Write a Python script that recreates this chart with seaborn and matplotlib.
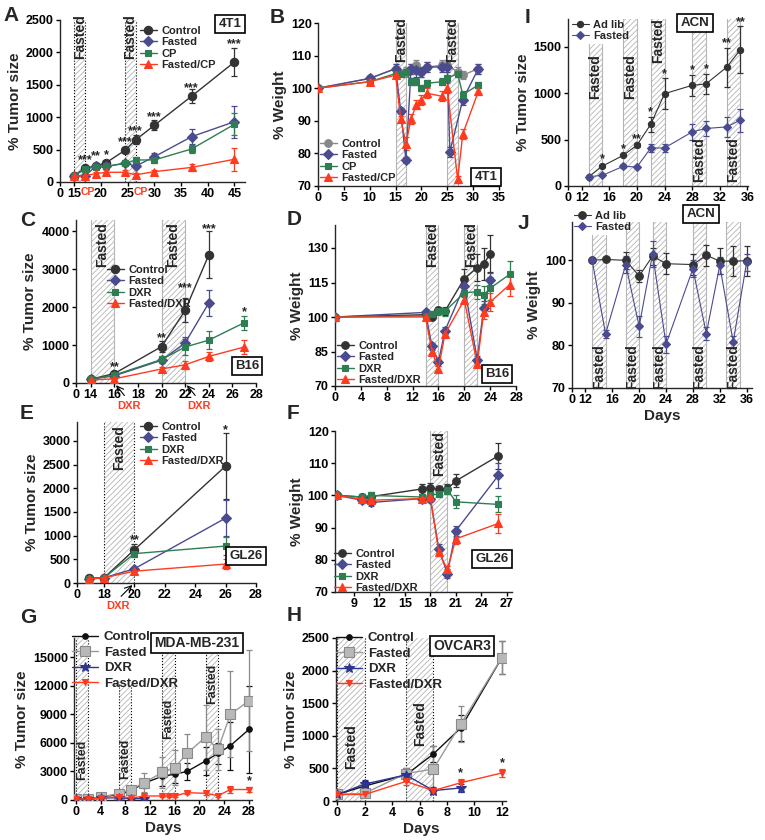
import numpy as np
import pandas as pd
import matplotlib
matplotlib.use('Agg')
import matplotlib.pyplot as plt
import matplotlib.transforms as mtransforms
import seaborn as sns

sns.set_theme(style='ticks')
plt.rcParams['font.family'] = ['Liberation Sans', 'DejaVu Sans']
plt.rcParams['font.weight'] = 'bold'
plt.rcParams['axes.labelweight'] = 'bold'
plt.rcParams['axes.linewidth'] = 1.0
plt.rcParams['hatch.linewidth'] = 0.6
for k in ['xtick', 'ytick']:
    plt.rcParams[k + '.major.width'] = 1.0
    plt.rcParams[k + '.major.size'] = 3
    plt.rcParams[k + '.labelsize'] = 9
    plt.rcParams[k + '.major.pad'] = 1.5
    plt.rcParams[k + '.color'] = 'black'

# colours
C_CTRL = '#333333'
C_FAST = '#4b4b8f'
C_DRUG = '#2f7d52'
C_RED = '#ff3b1f'
C_GRAY = '#888888'
C_NAVY = '#2c3590'

# ---------------- A: 4T1 tumor size ----------------
a_days = [15, 17, 19, 21, 24.5, 26.5, 30, 37, 45]
a_ctrl = [100, 215, 245, 300, 490, 650, 875, 1325, 1850]
a_ctrl_err = [0, 30, 25, 30, 30, 70, 80, 110, 215]
a_fast = [100, 95, 240, 240, 290, 245, 390, 700, 930]
a_fast_err = [0, 10, 25, 20, 30, 30, 50, 120, 250]
a_cp = [100, 195, 235, 240, 290, 340, 340, 510, 890]
a_cp_err = [0, 20, 25, 25, 30, 40, 40, 60, 170]
a_fcp = [90, 95, 130, 150, 150, 110, 160, 225, 350]
a_fcp_err = [0, 10, 30, 30, 30, 30, 25, 60, 180]
a_star_x = [17, 19, 21, 24.5, 26.5, 30, 37, 45]
a_star_y = [330, 400, 420, 610, 790, 1000, 1450, 2120]
a_star_t = ['***', '**', '*', '***', '***', '***', '***', '***']

# ---------------- B: 4T1 weight ----------------
b_ctrl_x = [0, 10, 15, 17, 18, 19, 20, 21, 24, 25, 27, 28, 31]
b_ctrl = [100, 103, 106, 105, 106, 107, 105, 106.5, 107, 107, 105, 104, 106]
b_ctrl_err = [0, 0.8, 1.5, 1.5, 1.5, 1.5, 1.5, 1.5, 1.5, 1.5, 1.5, 1.2, 1.5]
b_fast_x = [0, 10, 15, 16, 17, 18, 19, 20, 21, 24, 25, 25.5, 28, 31]
b_fast = [100, 103, 106, 93, 78, 106, 105.5, 105, 106.5, 106.5, 106.5, 80.5, 96.5, 106]
b_fast_err = [0, 0.8, 1.5, 1, 1, 1.5, 2, 1.5, 1.5, 1.5, 1.5, 1.5, 1.5, 1.5]
b_cp_x = [0, 10, 15, 16, 17, 18, 19, 20, 21, 24, 25, 27, 28, 31]
b_cp = [100, 102, 104.5, 104.5, 105, 102, 102, 100, 101.5, 102, 103, 104.5, 98, 101]
b_cp_err = [0, 0.8, 1, 1, 1, 1, 1, 1, 1, 1, 1, 1.2, 1.2, 1]
b_fcp_x = [0, 10, 15, 16, 17, 18, 19, 20, 21, 24, 25, 27, 28, 31]
b_fcp = [100, 102, 104, 90.5, 83, 90.5, 95, 96.5, 98.5, 97.5, 100, 72, 86, 99]
b_fcp_err = [0, 0.8, 1, 1, 2, 1.5, 1.5, 1.5, 1.5, 1.5, 1.5, 1, 1.5, 1]

# ---------------- C: B16 tumor size ----------------
c_days = [14, 16, 20, 22, 24]
c_ctrl = [100, 250, 960, 1920, 3380]
c_ctrl_err = [0, 30, 150, 310, 620]
c_fast = [100, 190, 600, 1060, 2110]
c_fast_err = [0, 20, 80, 150, 350]
c_dxr_x = [14, 16, 20, 22, 24, 27]
c_dxr = [100, 210, 620, 950, 1130, 1590]
c_dxr_err = [0, 20, 80, 200, 230, 190]
c_fdxr = [80, 110, 370, 480, 700, 950]
c_fdxr_err = [0, 10, 60, 100, 120, 180]
c_star_x = [16, 20, 22, 24, 27]
c_star_y = [420, 1170, 2500, 4050, 1860]
c_star_t = ['**', '**', '***', '***', '*']

# ---------------- D: B16 weight ----------------
d_days = [0, 14, 15, 16, 17, 20, 22, 23, 24]
d_ctrl = [100, 101, 100.2, 103, 102.5, 116.7, 121.5, 123, 127.5]
d_ctrl_err = [0, 1, 1, 1.5, 1.5, 4, 6, 7, 8]
d_fast = [100, 102, 87.3, 80.4, 94, 113.5, 81.5, 104, 116]
d_fast_err = [0, 1, 1.5, 1.5, 1.5, 2.5, 1.5, 3, 3]
d_dxr_x = [0, 14, 15, 16, 17, 20, 22, 23, 24, 27]
d_dxr = [100, 100.5, 101.5, 102.5, 102.5, 110.5, 111, 109.5, 112.5, 118.5]
d_dxr_err = [0, 1, 1, 1.5, 2, 2, 3, 4, 5, 6]
d_fdxr = [100, 100, 85, 77.5, 92.5, 107.5, 79.5, 102, 106.5, 114]
d_fdxr_err = [0, 1, 1, 1, 1.5, 1.5, 1, 3, 4, 5]

# ---------------- E: GL26 tumor size ----------------
e_days = [17, 18, 20, 26]
e_ctrl = [100, 110, 700, 2470]
e_ctrl_err = [0, 0, 120, 700]
e_fast = [90, 110, 300, 1370]
e_fast_err = [0, 0, 40, 380]
e_dxr = [90, 110, 620, 780]
e_dxr_err = [0, 0, 80, 190]
e_fdxr = [80, 110, 250, 400]
e_fdxr_err = [0, 0, 30, 100]

# ---------------- F: GL26 weight ----------------
f_days = [7, 10, 11, 17, 18, 19, 20, 21, 26]
f_ctrl = [100, 99.5, 99.6, 102, 102.3, 102, 102, 104.5, 112.3]
f_ctrl_err = [0, 1, 1, 1.5, 1.5, 1, 1.5, 2, 4]
f_fast = [100, 98.5, 97.8, 99, 99, 83.5, 75.7, 89, 106.2]
f_fast_err = [0, 1, 1, 1, 1, 1.5, 1.5, 1.5, 4]
f_dxr = [100, 99.5, 100, 99.5, 100, 100.5, 101.8, 98, 97.2]
f_dxr_err = [0, 1, 1, 1, 1, 1, 1.5, 2, 2.5]
f_fdxr = [100, 98.8, 98.5, 99, 99.5, 82.3, 77, 86.5, 91.3]
f_fdxr_err = [0, 1, 1, 1, 1.5, 1, 1, 1.5, 3]

# ---------------- G: MDA-MB-231 ----------------
g_days = [0, 2, 4, 7, 9, 11, 14, 16, 18, 21, 23, 25, 28]
g_ctrl = [100, 100, 350, 550, 1000, 1750, 2500, 2700, 3000, 4100, 4900, 5700, 7400]
g_ctrl_err = [0, 0, 50, 100, 250, 500, 1000, 900, 900, 1500, 1100, 2500, 4600]
g_fast = [100, 100, 350, 650, 1100, 1800, 2900, 3400, 4900, 6600, 5300, 9000, 10400]
g_fast_err = [0, 0, 50, 200, 400, 1000, 1600, 1800, 2000, 3400, 2200, 4500, 5300]
g_dxr_x = [0, 2, 4, 7, 9, 11]
g_dxr = [100, 60, 200, 250, 150, 150]
g_dxr_err = [0, 30, 50, 50, 50, 50]
g_fdxr_x = [0, 2, 4, 7, 9, 11, 14, 15, 16, 18, 21, 23, 25, 28]
g_fdxr = [100, 100, 200, 350, 200, 420, 420, 400, 420, 770, 700, 450, 1100, 1100]
g_fdxr_err = [0, 0, 50, 50, 50, 100, 100, 100, 100, 150, 150, 150, 350, 250]

# ---------------- H: OVCAR3 ----------------
h_days = [0, 2, 5, 7, 9, 12]
h_ctrl = [100, 230, 400, 720, 1120, 2200]
h_ctrl_err = [0, 80, 100, 120, 200, 250]
h_fast = [100, 120, 420, 490, 1180, 2200]
h_fast_err = [0, 40, 80, 350, 280, 250]
h_dxr_x = [0, 2, 5, 7, 9]
h_dxr = [100, 260, 400, 160, 200]
h_dxr_err = [0, 60, 80, 50, 60]
h_fdxr = [100, 100, 300, 160, 280, 430]
h_fdxr_err = [0, 20, 60, 40, 60, 60]

# ---------------- I: ACN tumor size ----------------
i_days = [13, 15, 18, 20, 22, 24, 28, 30, 33, 35]
i_adlib = [100, 215, 330, 440, 665, 995, 1085, 1100, 1280, 1470]
i_adlib_err = [0, 0, 0, 20, 80, 165, 110, 105, 210, 255]
i_fast = [100, 115, 212, 205, 410, 410, 583, 620, 637, 710]
i_fast_err = [0, 10, 20, 15, 45, 45, 90, 85, 110, 125]
i_star_y = [290, 400, 510, 800, 1200, 1250, 1260, 1540, 1770]
i_star_t = ['*', '*', '**', '*', '*', '*', '*', '**', '**']

# ---------------- J: ACN weight ----------------
j_days = [13, 15, 18, 20, 22, 24, 28, 30, 32, 34, 36]
j_adlib = [100, 100.2, 100, 96.3, 101, 99.2, 99, 101.2, 99.8, 99.8, 99.9]
j_adlib_err = [0, 0, 2, 1.5, 2, 2.5, 2.5, 2.5, 3, 3.5, 3.5]
j_fast = [100, 82.7, 99, 84.5, 101.5, 80.3, 98, 82.8, 98.8, 80.8, 99.5]
j_fast_err = [0, 1, 2, 2.5, 3, 2, 2, 1.5, 2, 1.5, 2]

W, H = 765, 840
fig = plt.figure(figsize=(W / 100, H / 100), dpi=100)


def panel(l, t, r, b):
    ax = fig.add_axes([l / W, 1 - b / H, (r - l) / W, (b - t) / H])
    sns.despine(ax=ax)
    return ax


def series(ax, x, y, err, label, color, marker, ms=5.5, mfc=None, mec=None, lw=1.0):
    df = pd.DataFrame({'day': x, 'val': y})
    sns.lineplot(data=df, x='day', y='val', ax=ax, color=color, marker=marker,
                 markersize=ms, markerfacecolor=mfc or color,
                 markeredgecolor=mec or color, markeredgewidth=0.8,
                 linewidth=lw, label=label, errorbar=None, legend=False, zorder=3)
    if err is not None:
        ax.errorbar(x, y, yerr=err, fmt='none', ecolor=mec or color, elinewidth=0.9,
                    capsize=2.5, capthick=0.9, zorder=2)


def fasted(ax, x0, x1, ylim, top=None, dotted=False):
    y0, y1 = ylim
    frac = 1 if top is None else (top - y0) / (y1 - y0)
    ax.axvspan(x0, x1, ymin=0, ymax=frac, facecolor='white', edgecolor='#b4b4b4',
               hatch='//////', lw=0, zorder=0)
    ls = ':' if dotted else '-'
    c = 'black' if dotted else '#b5b5b5'
    for xx in (x0, x1):
        ax.plot([xx, xx], [y0, y0 + frac * (y1 - y0)], ls=ls, color=c, lw=0.8, zorder=1)


def ftext(ax, x, y, fs=10):
    ax.text(x, y, 'Fasted', rotation=90, ha='center', va='center', fontsize=fs,
            fontweight='bold', zorder=4)


def stars(ax, xs, ys, ts):
    for x, y, t in zip(xs, ys, ts):
        ax.text(x, y, t, ha='center', va='center', fontsize=9, fontweight='bold', zorder=5)


def legend(ax, px, py, fs=8, hl=1.5, sp=0.12):
    h, l = ax.get_legend_handles_labels()
    ax.legend(h, l, loc='upper left', bbox_to_anchor=(px / W, 1 - py / H),
              bbox_transform=fig.transFigure, frameon=False, fontsize=fs,
              handlelength=hl, handletextpad=0.4, labelspacing=sp,
              borderpad=0, borderaxespad=0)


def cellbox(px, py, txt, fs=9.5):
    fig.text(px / W, 1 - py / H, txt, ha='center', va='center', fontsize=fs,
             fontweight='bold',
             bbox=dict(boxstyle='square,pad=0.25', fc='white', ec='black', lw=1.2))


def finish(ax, xlim, ylim, xticks, yticks, xlabels=None, ylabel='', xlabel=''):
    ax.set_xlim(*xlim)
    ax.set_ylim(*ylim)
    ax.set_xticks(xticks)
    if xlabels is not None:
        ax.set_xticklabels(xlabels)
    ax.set_yticks(yticks)
    ax.set_ylabel(ylabel, fontsize=11, fontweight='bold', labelpad=3)
    ax.set_xlabel(xlabel, fontsize=11, fontweight='bold', labelpad=2)
    ax.set_facecolor('white')


def letter(px, py, t):
    fig.text(px / W, 1 - py / H, t, ha='left', va='top', fontsize=15, fontweight='bold')


# ---------- A ----------
ax = panel(60, 20, 245, 182)
yl = (0, 2500)
fasted(ax, 15, 17, yl, dotted=True)
fasted(ax, 24.5, 26.5, yl, dotted=True)
ftext(ax, 16, 2250)
ftext(ax, 25.5, 2250)
series(ax, a_days, a_ctrl, a_ctrl_err, 'Control', C_CTRL, 'o', 6)
series(ax, a_days, a_fast, a_fast_err, 'Fasted', C_FAST, 'D', 5)
series(ax, a_days, a_cp, a_cp_err, 'CP', C_DRUG, 's', 5)
series(ax, a_days, a_fcp, a_fcp_err, 'Fasted/CP', C_RED, '^', 6)
stars(ax, a_star_x, a_star_y, a_star_t)
legend(ax, 140, 26)
finish(ax, (12.3, 47), yl, [12.3, 15, 20, 25, 30, 35, 40, 45], range(0, 2501, 500),
       ['0', '15', '20', '25', '30', '35', '40', '45'], '% Tumor size')
trA = mtransforms.blended_transform_factory(ax.transData, ax.transAxes)
for xc in [17.6, 27.4]:
    ax.text(xc, -0.03, 'CP', transform=trA, ha='center', va='top', color=C_RED,
            fontsize=7.5, fontweight='bold')
cellbox(230, 24, '4T1')
letter(3, 6, 'A')

# ---------- B ----------
ax = panel(318, 23, 499, 186)
yl = (70, 120)
fasted(ax, 15, 17, yl)
fasted(ax, 25, 27, yl)
ftext(ax, 16, 115)
ftext(ax, 26, 115)
series(ax, b_ctrl_x, b_ctrl, b_ctrl_err, 'Control', C_GRAY, 'o', 5.5)
series(ax, b_fast_x, b_fast, b_fast_err, 'Fasted', C_FAST, 'D', 5)
series(ax, b_cp_x, b_cp, b_cp_err, 'CP', C_DRUG, 's', 5)
series(ax, b_fcp_x, b_fcp, b_fcp_err, 'Fasted/CP', C_RED, '^', 5.5)
legend(ax, 320, 139)
finish(ax, (0, 35), yl, range(0, 36, 5), range(70, 121, 10), None, '% Weight')
cellbox(486, 177, '4T1')
letter(270, 8, 'B')

# ---------- I ----------
ax = panel(568, 19, 748, 186)
yl = (0, 1800)
fasted(ax, 13, 15, yl, top=1530)
for s in [(18, 20), (22, 24), (28, 30), (33, 35)]:
    fasted(ax, s[0], s[1], yl)
ftext(ax, 14, 1180)
ftext(ax, 19, 1180)
ftext(ax, 23, 1570)
ftext(ax, 29, 280)
ftext(ax, 34, 280)
series(ax, i_days, i_adlib, i_adlib_err, 'Ad lib', C_CTRL, 'o', 4.5, lw=0.8)
series(ax, i_days, i_fast, i_fast_err, 'Fasted', C_FAST, 'D', 4.5, lw=0.8)
stars(ax, i_days[1:], i_star_y, i_star_t)
legend(ax, 572, 20)
finish(ax, (10.0, 36.1), yl, [10.0, 12, 16, 20, 24, 28, 32, 36], [0, 500, 1000, 1500],
       ['0', '12', '16', '20', '24', '28', '32', '36'], '% Tumor size')
cellbox(695, 23, 'ACN')
letter(525, 8, 'I')

# ---------- J ----------
ax = panel(572, 222, 752, 388)
yl = (70, 109)
fasted(ax, 13, 15, yl, top=106)
for s in [(18, 20), (22, 24), (28, 30), (33, 35)]:
    fasted(ax, s[0], s[1], yl)
for xc in [14, 19, 23, 29, 34]:
    ftext(ax, xc, 75)
series(ax, j_days, j_adlib, j_adlib_err, 'Ad lib', C_CTRL, 'o', 5.5, lw=0.8)
series(ax, j_days, j_fast, j_fast_err, 'Fasted', C_FAST, 'D', 4.5, lw=0.8)
legend(ax, 574, 211)
finish(ax, (10.0, 36.8), yl, [10.0, 12, 16, 20, 24, 28, 32, 36], [70, 80, 90, 100],
       ['0', '12', '16', '20', '24', '28', '32', '36'], '% Weight', 'Days')
cellbox(701, 214, 'ACN')
letter(518, 214, 'J')

# ---------- C ----------
ax = panel(76, 220, 256, 383)
yl = (0, 4300)
fasted(ax, 14, 16, yl)
fasted(ax, 20, 22, yl)
ftext(ax, 15, 3650)
ftext(ax, 21, 3650)
series(ax, c_days, c_ctrl, c_ctrl_err, 'Control', C_CTRL, 'o', 6)
series(ax, c_days, c_fast, c_fast_err, 'Fasted', C_FAST, 'D', 5)
series(ax, c_dxr_x, c_dxr, c_dxr_err, 'DXR', C_DRUG, 's', 5)
series(ax, c_dxr_x, c_fdxr, c_fdxr_err, 'Fasted/DXR', C_RED, '^', 6)
stars(ax, c_star_x, c_star_y, c_star_t)
legend(ax, 107, 265)
finish(ax, (12.75, 28), yl, [12.75, 14, 16, 18, 20, 22, 24, 26, 28], range(0, 4001, 1000),
       ['0', '14', '16', '18', '20', '22', '24', '26', '28'], '% Tumor size')
trC = mtransforms.blended_transform_factory(ax.transData, ax.transAxes)
for xd in [16, 22]:
    ax.annotate('', xy=(xd, 0), xycoords=trC, xytext=(xd + 1.0, -0.09), textcoords=trC,
                arrowprops=dict(arrowstyle='->', lw=0.8, color='black'), annotation_clip=False)
    ax.text(xd + 1.2, -0.11, 'DXR', transform=trC, ha='center', va='top', color=C_RED,
            fontsize=8, fontweight='bold')
cellbox(247, 366, 'B16')
letter(20, 211, 'C')

# ---------- D ----------
ax = panel(335, 225, 516, 386)
yl = (70, 140)
fasted(ax, 14, 16, yl)
fasted(ax, 20, 22, yl)
ftext(ax, 15, 131.5)
ftext(ax, 21, 131.5)
series(ax, d_days, d_ctrl, d_ctrl_err, 'Control', C_CTRL, 'o', 5.5)
series(ax, d_days, d_fast, d_fast_err, 'Fasted', C_FAST, 'D', 5)
series(ax, d_dxr_x, d_dxr, d_dxr_err, 'DXR', C_DRUG, 's', 5)
series(ax, d_dxr_x, d_fdxr, d_fdxr_err, 'Fasted/DXR', C_RED, '^', 5.5)
legend(ax, 337, 341)
finish(ax, (0, 28), yl, range(0, 29, 4), [70, 85, 100, 115, 130], None, '% Weight')
cellbox(497, 374, 'B16')
letter(287, 210, 'D')

# ---------- E ----------
ax = panel(77, 422, 256, 583)
yl = (0, 3400)
fasted(ax, 18, 20, yl, dotted=True)
ftext(ax, 19, 2850)
series(ax, e_days, e_ctrl, e_ctrl_err, 'Control', C_CTRL, 'o', 6)
series(ax, e_days, e_fast, e_fast_err, 'Fasted', C_FAST, 'D', 5)
series(ax, e_days, e_dxr, e_dxr_err, 'DXR', C_DRUG, 's', 5)
series(ax, e_days, e_fdxr, e_fdxr_err, 'Fasted/DXR', C_RED, '^', 6)
stars(ax, [20, 26], [900, 3230], ['**', '*'])
legend(ax, 140, 422)
finish(ax, (16.23, 28), yl, [16.23, 18, 20, 22, 24, 26, 28], range(0, 3001, 500),
       ['0', '18', '20', '22', '24', '26', '28'], '% Tumor size')
trE = mtransforms.blended_transform_factory(ax.transData, ax.transAxes)
ax.annotate('', xy=(20, 0), xycoords=trE, xytext=(19.0, -0.095), textcoords=trE,
            arrowprops=dict(arrowstyle='->', lw=0.8, color='black'), annotation_clip=False)
ax.text(18.9, -0.11, 'DXR', transform=trE, ha='center', va='top', color=C_RED,
        fontsize=8, fontweight='bold')
cellbox(246, 556, 'GL26')
letter(20, 404, 'E')

# ---------- F ----------
ax = panel(335, 431, 512, 592)
yl = (70, 120)
fasted(ax, 18, 20, yl)
ftext(ax, 19, 113)
series(ax, f_days, f_ctrl, f_ctrl_err, 'Control', C_CTRL, 'o', 5.5)
series(ax, f_days, f_fast, f_fast_err, 'Fasted', C_FAST, 'D', 5)
series(ax, f_days, f_dxr, f_dxr_err, 'DXR', C_DRUG, 's', 5)
series(ax, f_days, f_fdxr, f_fdxr_err, 'Fasted/DXR', C_RED, '^', 5.5)
legend(ax, 334, 549)
finish(ax, (6.8, 27.6), yl, range(9, 28, 3), range(70, 121, 10), None, '% Weight')
cellbox(492, 559, 'GL26')
letter(287, 404, 'F')

# ---------- G ----------
ax = panel(74, 638, 252, 800)
yl = (0, 17000)
fasted(ax, 0, 2, yl, dotted=True)
fasted(ax, 7, 9, yl, top=12400, dotted=True)
fasted(ax, 14, 16, yl, top=15300, dotted=True)
fasted(ax, 21, 23, yl, top=15300, dotted=True)
ftext(ax, 1, 4200, 9)
ftext(ax, 8, 4300, 9)
ftext(ax, 15, 8500, 9)
ftext(ax, 22, 12200, 9)
series(ax, g_days, g_ctrl, g_ctrl_err, 'Control', '#111111', 'o', 4)
series(ax, g_days, g_fast, g_fast_err, 'Fasted', '#9a9a9a', 's', 6.5, mfc='#b8b8b8', mec='#8a8a8a')
series(ax, g_dxr_x, g_dxr, g_dxr_err, 'DXR', C_NAVY, '*', 7)
series(ax, g_fdxr_x, g_fdxr, g_fdxr_err, 'Fasted/DXR', C_RED, 'v', 5)
stars(ax, [28], [1950], ['*'])
legend(ax, 72, 631, fs=9.5, hl=2.0, sp=0.25)
finish(ax, (-0.3, 28.5), yl, range(0, 29, 4), range(0, 15001, 3000), None,
       '% Tumor size', 'Days')
cellbox(197, 643, 'MDA-MB-231', fs=10)
letter(20, 608, 'G')

# ---------- H ----------
ax = panel(336, 638, 506, 801)
yl = (0, 2500)
fasted(ax, 0, 2, yl, dotted=True)
fasted(ax, 5, 7, yl, dotted=True)
ftext(ax, 1, 835, 10)
ftext(ax, 6, 1190, 10)
series(ax, h_days, h_ctrl, h_ctrl_err, 'Control', '#111111', 'o', 4)
series(ax, h_days, h_fast, h_fast_err, 'Fasted', '#9a9a9a', 's', 6.5, mfc='#b8b8b8', mec='#8a8a8a')
series(ax, h_dxr_x, h_dxr, h_dxr_err, 'DXR', C_NAVY, '*', 7)
series(ax, h_days, h_fdxr, h_fdxr_err, 'Fasted/DXR', C_RED, 'v', 5)
stars(ax, [9, 12], [420, 580], ['*', '*'])
legend(ax, 336, 632, fs=9.5, hl=2.0, sp=0.25)
finish(ax, (-0.1, 12.3), yl, range(0, 13, 2), range(0, 2501, 500), None,
       '% Tumor size', 'Days')
cellbox(462, 646, 'OVCAR3', fs=10)
letter(287, 606, 'H')

fig.savefig('out.png', dpi=100)
